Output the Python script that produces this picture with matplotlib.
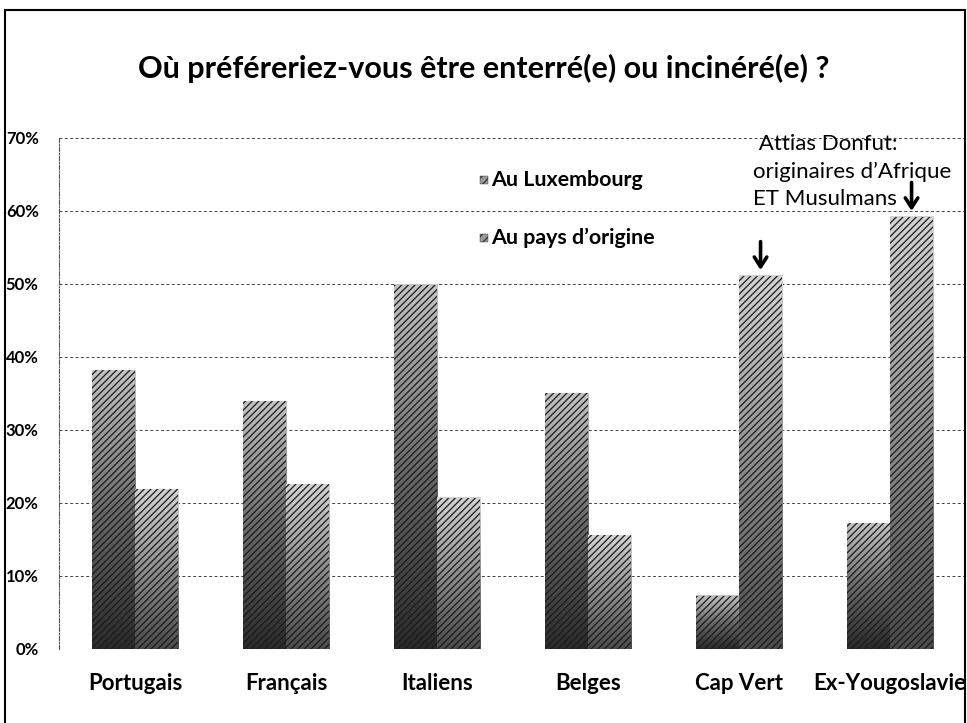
import numpy as np
import matplotlib
matplotlib.use('Agg')
import matplotlib.pyplot as plt
from matplotlib.colors import LinearSegmentedColormap
from matplotlib.patches import Rectangle

# data
categories = ['Portugais', 'Français', 'Italiens', 'Belges', 'Cap Vert', 'Ex-Yougoslavie']
au_luxembourg = [0.382, 0.339, 0.499, 0.350, 0.073, 0.172]
au_pays_origine = [0.219, 0.226, 0.207, 0.156, 0.511, 0.592]
series_labels = ['Au Luxembourg', 'Au pays d\u2019origine']
y_ticks = [0, 0.1, 0.2, 0.3, 0.4, 0.5, 0.6, 0.7]
y_tick_labels = ['0%', '10%', '20%', '30%', '40%', '50%', '60%', '70%']
note_lines = [' Attias Donfut:', 'originaires d\u2019Afrique', 'ET Musulmans']
marked = ['Cap Vert', 'Ex-Yougoslavie']

plt.rcParams['font.family'] = ['Lato', 'DejaVu Sans']
plt.rcParams['hatch.linewidth'] = 0.9

fig = plt.figure(figsize=(9.67, 7.23), dpi=100)
ax = fig.add_axes([0.0615, 0.1024, 0.937, 0.7068])

cmaps = [LinearSegmentedColormap.from_list('lux', ['#2a2a2a', '#6a6a6a', '#c4c4c4']),
         LinearSegmentedColormap.from_list('pays', ['#4a4a4a', '#8e8e8e', '#d4d4d4'])]

x = np.arange(len(categories))
w = 0.285
grad = np.linspace(0, 1, 256)[:, None]
for k, vals in enumerate([au_luxembourg, au_pays_origine]):
    bars = ax.bar(x + (k - 0.5) * w, vals, w, facecolor='none', edgecolor='#1a1a1a',
                  hatch='/////', linewidth=0, zorder=3)
    for b in bars:
        x0, h = b.get_x(), b.get_height()
        ax.imshow(grad, cmap=cmaps[k], extent=(x0, x0 + b.get_width(), 0, h),
                  origin='lower', aspect='auto', zorder=2, vmin=0, vmax=1)

ax.set_xlim(-0.5, len(categories) - 0.5)
ax.set_ylim(0, 0.70)
ax.set_aspect('auto')

for t in y_ticks:
    ax.axhline(t, color='#444444', lw=0.7, linestyle=(0, (3, 2.5)), zorder=1)

ax.set_yticks(y_ticks)
ax.set_yticklabels(y_tick_labels, fontweight='bold', fontsize=12)
ax.set_xticks(x)
ax.set_xticklabels(categories, fontweight='bold', fontsize=16)
ax.tick_params(axis='y', length=0, pad=15)
ax.tick_params(axis='x', length=0, pad=17)
for s in ['top', 'right', 'bottom']:
    ax.spines[s].set_visible(False)
ax.spines['left'].set_linestyle((0, (4, 1.5, 1, 1.5)))
ax.spines['left'].set_color('#555555')
ax.spines['left'].set_linewidth(0.8)

# title
fig.text(0.5, 1 - 68 / 723, 'Où préféreriez-vous être enterré(e) ou incinéré(e) ?',
         ha='center', va='center', fontsize=22, fontweight='bold')

# legend
for k, lab in enumerate(series_labels):
    yc = 1 - (180 + 58 * k) / 723
    fig.patches.append(Rectangle((480 / 967, yc - 4 / 723), 8 / 967, 8 / 723,
                                 transform=fig.transFigure, facecolor='#999999',
                                 edgecolor='#333333', hatch='////', lw=0.3))
    fig.text(491 / 967, yc, lab, ha='left', va='center', fontsize=15.4, fontweight='bold')

# note
fig.text(753 / 967, 1 - 134 / 723, '\n'.join(note_lines), ha='left', va='top',
         fontsize=16, linespacing=1.45)

# hand drawn arrows
for name in marked:
    i = categories.index(name)
    v = au_pays_origine[i]
    ax.annotate('', xy=(i + 0.5 * w, v + 0.008), xytext=(i + 0.5 * w, v + 0.047),
                arrowprops=dict(arrowstyle='->,head_length=0.7,head_width=0.45',
                                lw=2.6, color='black', shrinkA=0, shrinkB=0))

# outer frame
fig.patches.append(Rectangle((5 / 967, -0.02), 960 / 967, 1.02 - 10 / 723,
                             transform=fig.transFigure, fill=False,
                             edgecolor='black', lw=1.5))

fig.savefig('out.png', dpi=100)
